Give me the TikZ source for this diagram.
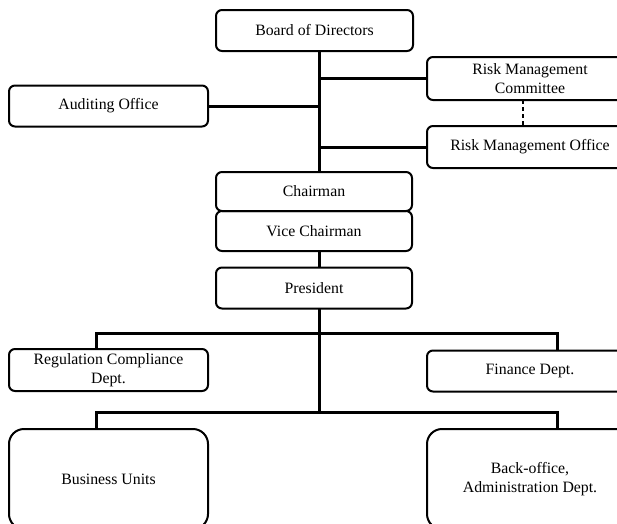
\documentclass[tikz,border=0pt]{standalone}
\usepackage{fontspec}
\setmainfont{Liberation Serif}
\tikzset{
	unit/.style={draw,rounded corners=6pt,line width=2pt,inner sep=0,outer sep=0,minimum width=199pt,minimum height=41pt,align=center,font=\fontsize{15.8}{19}\selectfont},
	bigunit/.style={unit,rounded corners=15pt,minimum height=100pt},
	link/.style={line width=3pt},
}
\begin{document}
\begin{tikzpicture}[x=1pt,y=-1pt]
	\useasboundingbox (0,0) rectangle (617,523);
	\coordinate (t) at (319,0);
	\coordinate (d) at (523,0);
	\coordinate (lft) at (96.5,0);
	\coordinate (rgt) at (557,0);
	\coordinate (bus1) at (319,333);
	\coordinate (bus2) at (319,412);
	\node[unit,minimum width=197pt] (board) at (314.5,30.5) {Board of Directors};
	\node[unit] (audit) at (108.5,106) {Auditing Office};
	\node[unit,minimum width=206pt,minimum height=43pt] (rmc) at (530,78.5) {Risk Management\\Committee};
	\node[unit,minimum width=206pt,minimum height=42pt] (rmo) at (530,147) {Risk Management Office};
	\node[unit,minimum width=196pt,minimum height=39pt] (chair) at (314,191.5) {Chairman};
	\node[unit,minimum width=196pt,minimum height=40pt] (vice) at (314,231) {Vice Chairman};
	\node[unit,minimum width=196pt] (pres) at (314,288) {President};
	\node[unit,minimum height=42pt] (reg) at (108.5,370) {Regulation Compliance\\Dept.};
	\node[unit,minimum width=206pt] (fin) at (530,371) {Finance Dept.};
	\node[bigunit] (biz) at (108.5,479) {Business Units};
	\node[bigunit,minimum width=206pt] (back) at (530,479) {Back-office,\\Administration Dept.};
	\draw[link] (board.south -| t) -- (chair.north -| t);
	\draw[link] (rmc.west) -- (rmc.west -| t);
	\draw[link] (audit.east) -- (audit.east -| t);
	\draw[link] (rmo.west) -- (rmo.west -| t);
	\draw[line width=2pt,dash pattern=on 4pt off 3pt] (rmc.south -| d) -- (rmo.north -| d);
	\draw[link] (vice.south -| t) -- (pres.north -| t);
	\draw[link] (pres.south -| t) -- (bus2);
	\draw[link] (reg.north -| lft) -- (lft |- bus1) -- (rgt |- bus1) -- (fin.north -| rgt);
	\draw[link] (biz.north -| lft) -- (lft |- bus2) -- (rgt |- bus2) -- (back.north -| rgt);
\end{tikzpicture}
\end{document}
